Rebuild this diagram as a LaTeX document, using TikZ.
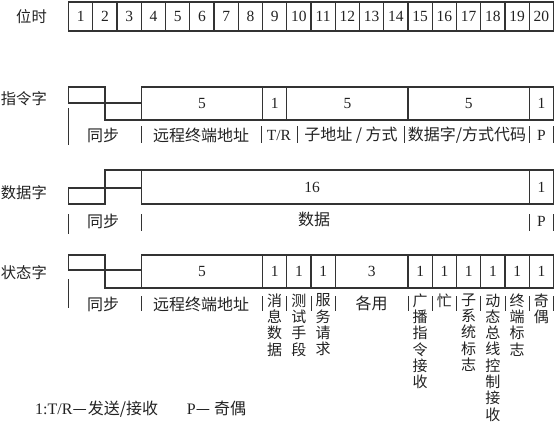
\documentclass[tikz,border=0pt]{standalone}
\usepackage{fontspec}
\setmainfont{Liberation Serif}
\newfontfamily\cjk{Noto Sans CJK SC}
\definecolor{lc}{HTML}{333333}
\definecolor{tc}{HTML}{222222}
\begin{document}
\begin{tikzpicture}[x=1pt,y=-1pt,
  box/.style={draw=lc, line width=1.4pt},
  sep/.style={draw=lc, line width=0.6pt},
  num/.style={font=\fontsize{15.5}{16}\selectfont, text=tc, inner sep=0pt},
  lab/.style={font=\fontsize{16}{16}\selectfont\cjk, text=tc, inner sep=0pt},
  vlab/.style={font=\fontsize{15}{16.3}\selectfont\cjk, text=tc, inner sep=0pt, align=center, anchor=north},
  rowlab/.style={font=\fontsize{15.3}{16}\selectfont\cjk, text=tc, inner sep=0pt, anchor=east}
]
\useasboundingbox (0,0) rectangle (556,424);

% ---- bit-time row ----
\node[rowlab] (lt) at (47,17) {位时};
\foreach \i in {1,...,20}{
  \draw[box] ({68.5+24.25*(\i-1)},2) rectangle node[num] (t\i) {\i} ({68.5+24.25*\i},31);
}

% ---- command word ----
\node[rowlab] (lc1) at (47,99) {指令字};
\draw[box] (68.5,87) rectangle (104.875,103);
\draw[box] (104.875,103) rectangle (141.25,120);
\draw[box] (141.25,87) rectangle node[num] (cA) {5} (262.5,120);
\draw[box] (262.5,87) rectangle node[num] (cB) {1} (286.75,120);
\draw[box] (286.75,87) rectangle node[num] (cC) {5} (408,120);
\draw[box] (408,87) rectangle node[num] (cD) {5} (529.25,120);
\draw[box] (529.25,87) rectangle node[num] (cE) {1} (553.5,120);
\draw[sep] (68.5,108) -- (68.5,145);
\foreach \x in {141.25,261.7,297.3,404,529.25,553.5}{\draw[sep] (\x,126) -- (\x,143);}
\node[lab] (cl1) at (103,135) {同步};
\node[lab] (cl2) at (201,135) {远程终端地址};
\node[num] (cl3) at (279,135) {T/R};
\node[lab] (cl4) at (351,135) {子地址 / 方式};
\node[lab] (cl5) at (467,135) {数据字/方式代码};
\node[num] (cl6) at (541.4,135) {P};

% ---- data word ----
\node[rowlab] (ld1) at (47,193) {数据字};
\draw[box] (68.5,188) rectangle (104.875,204);
\draw[box] (104.875,170) rectangle (141.25,188);
\draw[box] (141.25,170) rectangle (529.25,204);
\node[num] (dA) at (312,187) {16};
\draw[box] (529.25,170) rectangle node[num] (dB) {1} (553.5,204);
\draw[sep] (68.5,214) -- (68.5,234);
\foreach \x in {141.25,529.25,553.5}{\draw[sep] (\x,214) -- (\x,231);}
\node[lab] (dl1) at (103,221) {同步};
\node[lab] (dl2) at (314,219) {数据};
\node[num] (dl3) at (541.4,221) {P};

% ---- status word ----
\node[rowlab] (ls1) at (47,273) {状态字};
\draw[box] (68.5,255) rectangle (104.875,270);
\draw[box] (104.875,270) rectangle (141.25,288);
\draw[box] (141.25,255) rectangle node[num] (sA) {5} (262.5,288);
\draw[box] (262.5,255) rectangle node[num] (sB) {1} (286.75,288);
\draw[box] (286.75,255) rectangle node[num] (sC) {1} (311,288);
\draw[box] (311,255) rectangle node[num] (sD) {1} (335.25,288);
\draw[box] (335.25,255) rectangle node[num] (sE) {3} (408,288);
\foreach \i [count=\n] in {0,...,5}{
  \draw[box] ({408+24.25*\i},255) rectangle node[num] (sF\n) {1} ({408+24.25*(\i+1)},288);
}
\draw[sep] (68.5,279) -- (68.5,308);
\foreach \x in {141.25,262.5,286.75,311,335.25,408,432.25,456.5,480.75,505,529.25,553.5}{\draw[sep] (\x,296) -- (\x,311);}
\node[lab] (sl1) at (103,304) {同步};
\node[lab] (sl2) at (201,304) {远程终端地址};
\node[vlab] (sl3) at (274.6,293.5) {消\\息\\数\\据};
\node[vlab] (sl4) at (298.9,293.5) {测\\试\\手\\段};
\node[vlab] (sl5) at (323.1,293.5) {服\\务\\请\\求};
\node[lab] (sl6) at (371.6,303) {各用};
\node[vlab] (sl7) at (420.1,293.5) {广\\播\\指\\令\\接\\收};
\node[vlab] (sl8) at (444.4,293.5) {忙};
\node[vlab] (sl9) at (468.6,293.5) {子\\系\\统\\标\\志};
\node[vlab] (sl10) at (492.9,293.5) {动\\态\\总\\线\\控\\制\\接\\收};
\node[vlab] (sl11) at (517.1,293.5) {终\\端\\标\\志};
\node[vlab] (sl12) at (541.4,293.5) {奇\\偶};

% ---- legend ----
\node[num, font=\fontsize{16}{16}\selectfont, anchor=west] (leg) at (35,409) {1:T/R{\cjk —\hspace{1pt}发送/接收}\hspace{1.8em}P{\cjk —\hspace{4pt}奇偶}};
\end{tikzpicture}
\end{document}
